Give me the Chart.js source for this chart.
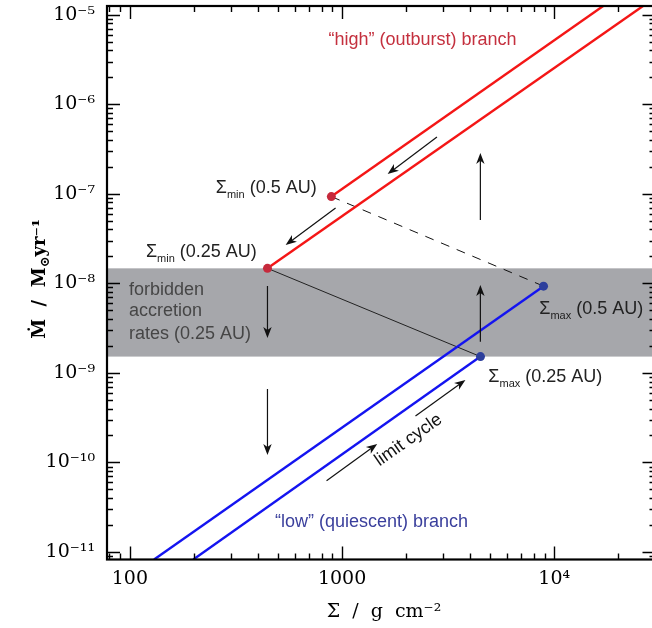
<!DOCTYPE html>
<html>
<head>
<meta charset="utf-8">
<script src="https://cdn.jsdelivr.net/npm/chart.js@4/dist/chart.umd.min.js"></script>
<style>
  html, body { margin: 0; padding: 0; background: #fff; overflow: hidden; }
</style>
</head>
<body>
<canvas id="cycleChart" width="660" height="628"></canvas>
<script>
// axis ranges and tick labels
const sigmaRange = [78, 30000];
const mdotRange = [8.24e-12, 1.25e-5];
const sigmaTicks = [100, 1000, 10000];
const sigmaTickLabels = ['100', '1000', '10⁴'];
const mdotTicks = [1e-11, 1e-10, 1e-9, 1e-8, 1e-7, 1e-6, 1e-5];
const mdotTickLabels = ['10⁻¹¹', '10⁻¹⁰', '10⁻⁹', '10⁻⁸', '10⁻⁷', '10⁻⁶', '10⁻⁵'];

// "high" (outburst) branches, Sigma / Mdot
const highSigma05 = [890, 17000];
const highMdot05 = [9.3e-8, 1.25e-5];
const highSigma025 = [445, 26200];
const highMdot025 = [1.47e-8, 1.25e-5];

// "low" (quiescent) branches
const lowSigma05 = [130, 8900];
const lowMdot05 = [8.24e-12, 9.3e-9];
const lowSigma025 = [199, 4490];
const lowMdot025 = [8.24e-12, 1.52e-9];

// turning points: Sigma_min (0.5, 0.25 AU) and Sigma_max (0.5, 0.25 AU)
const minSigma = [890, 445];
const minMdot = [9.3e-8, 1.47e-8];
const maxSigma = [8900, 4490];
const maxMdot = [9.3e-9, 1.52e-9];

// forbidden accretion rates at 0.25 AU
const forbiddenBand = [1.52e-9, 1.47e-8];

// limit-cycle arrows: [sigmaFrom, mdotFrom, sigmaTo, mdotTo]
const arrows = [
    [2800, 4.3e-7, 1640, 1.66e-7],
    [932, 6.94e-8, 542, 2.68e-8],
    [4485, 5.1e-8, 4485, 2.86e-7],
    [4485, 2.23e-9, 4485, 9.58e-9],
    [445, 9.34e-9, 445, 2.45e-9],
    [445, 6.61e-10, 445, 1.21e-10],
    [845, 6.25e-11, 1464, 1.61e-10],
    [2218, 3.3e-10, 3813, 8.33e-10]
];

const pts = (xs, ys) => xs.map((x, i) => ({ x, y: ys[i] }));

const SANS = '"Liberation Sans", Arial, sans-serif';
const SERIF = '"DejaVu Serif", serif';

// text annotations, anchored in data space
const notes = [
    { text: '“high” (outburst) branch', x: 2392, y: 4.59e-6, align: 'center', color: '#c4303e' },
    { text: '“low” (quiescent) branch', x: 1377, y: 1.92e-11, align: 'center', color: '#3a3f9c' },
    { text: 'forbidden', x: 99, y: 7.41e-9, align: 'left', color: '#464646' },
    { text: 'accretion', x: 99, y: 4.28e-9, align: 'left', color: '#464646' },
    { text: 'rates (0.25 AU)', x: 99, y: 2.38e-9, align: 'left', color: '#464646' }
];
const sigmaNotes = [
    { sub: 'min', rest: '(0.5 AU)', x: 254, y: 1.02e-7 },
    { sub: 'min', rest: '(0.25 AU)', x: 119, y: 1.97e-8 },
    { sub: 'max', rest: '(0.5 AU)', x: 8500, y: 4.55e-9 },
    { sub: 'max', rest: '(0.25 AU)', x: 4890, y: 7.97e-10 }
];

function drawArrow(ctx, x0, y0, x1, y1) {
    const ang = Math.atan2(y1 - y0, x1 - x0);
    const L = 11, W = 4.2;
    ctx.beginPath();
    ctx.moveTo(x0, y0);
    ctx.lineTo(x1 - Math.cos(ang) * L * 0.7, y1 - Math.sin(ang) * L * 0.7);
    ctx.stroke();
    ctx.save();
    ctx.translate(x1, y1);
    ctx.rotate(ang);
    ctx.beginPath();
    ctx.moveTo(0, 0);
    ctx.lineTo(-L, -W);
    ctx.lineTo(-L * 0.72, 0);
    ctx.lineTo(-L, W);
    ctx.closePath();
    ctx.fill();
    ctx.restore();
}

function drawLogTicks(ctx, scale, a, horizontal) {
    const lo = scale.min, hi = scale.max;
    for (let e = Math.floor(Math.log10(lo)); e <= Math.ceil(Math.log10(hi)); e++) {
        for (let m = 1; m < 10; m++) {
            const v = m * Math.pow(10, e);
            if (v < lo * 0.999 || v > hi * 1.001) continue;
            const len = m === 1 ? 13 : 6;
            const p = Math.round(scale.getPixelForValue(v)) + 0.5;
            ctx.beginPath();
            if (horizontal) {
                ctx.moveTo(p, a.bottom); ctx.lineTo(p, a.bottom - len);
                ctx.moveTo(p, a.top); ctx.lineTo(p, a.top + len);
            } else {
                ctx.moveTo(a.left, p); ctx.lineTo(a.left + len, p);
                ctx.moveTo(a.right, p); ctx.lineTo(a.right - len, p);
            }
            ctx.stroke();
        }
    }
}

const decor = {
    id: 'decor',
    beforeDatasetsDraw(chart) {
        const { ctx, chartArea: a, scales: { y } } = chart;
        const top = y.getPixelForValue(forbiddenBand[1]);
        const bot = y.getPixelForValue(forbiddenBand[0]);
        ctx.save();
        ctx.fillStyle = '#a6a7ab';
        ctx.fillRect(a.left, top, a.right - a.left, bot - top);
        ctx.restore();
    },
    afterDatasetsDraw(chart) {
        const { ctx, chartArea: a, scales: { x, y } } = chart;
        ctx.save();

        // arrows
        ctx.strokeStyle = '#111';
        ctx.fillStyle = '#111';
        ctx.lineWidth = 1.2;
        arrows.forEach(r => {
            drawArrow(ctx, x.getPixelForValue(r[0]), y.getPixelForValue(r[1]),
                x.getPixelForValue(r[2]), y.getPixelForValue(r[3]));
        });

        // plain notes
        ctx.textBaseline = 'alphabetic';
        ctx.font = '18px ' + SANS;
        notes.forEach(n => {
            ctx.fillStyle = n.color;
            ctx.textAlign = n.align;
            ctx.fillText(n.text, x.getPixelForValue(n.x), y.getPixelForValue(n.y));
        });

        // Sigma_min / Sigma_max notes
        ctx.textAlign = 'left';
        ctx.fillStyle = '#222';
        sigmaNotes.forEach(n => {
            let px = x.getPixelForValue(n.x);
            const py = y.getPixelForValue(n.y);
            ctx.font = '18px ' + SANS;
            ctx.fillText('Σ', px, py);
            px += ctx.measureText('Σ').width;
            ctx.font = '11px ' + SANS;
            ctx.fillText(n.sub, px, py + 5);
            px += ctx.measureText(n.sub).width;
            ctx.font = '18px ' + SANS;
            ctx.fillText(' ' + n.rest, px, py);
        });

        // rotated "limit cycle"
        ctx.save();
        ctx.translate(x.getPixelForValue(2056), y.getPixelForValue(1.78e-10));
        ctx.rotate(-35 * Math.PI / 180);
        ctx.font = '18px ' + SANS;
        ctx.textAlign = 'center';
        ctx.textBaseline = 'middle';
        ctx.fillStyle = '#111';
        ctx.fillText('limit cycle', 0, 0);
        ctx.restore();

        // frame and inward ticks
        ctx.strokeStyle = '#000';
        ctx.lineWidth = 1.4;
        drawLogTicks(ctx, x, a, true);
        drawLogTicks(ctx, y, a, false);
        ctx.lineWidth = 2.2;
        ctx.strokeRect(a.left, a.top, a.right - a.left, a.bottom - a.top);

        // axis titles
        ctx.fillStyle = '#000';
        ctx.textBaseline = 'alphabetic';
        ctx.textAlign = 'center';
        ctx.font = '19px ' + SERIF;
        ctx.fillText('Σ  /  g  cm⁻²', 384, 617);

        ctx.save();
        ctx.translate(45, 279);
        ctx.rotate(-Math.PI / 2);
        const parts = [
            ['Ṁ  /  M', 'bold 18px ' + SERIF, 0],
            ['⊙', 'bold 13px ' + SERIF, 4],
            ['yr', 'bold 18px ' + SERIF, 0],
            ['⁻¹', 'bold 18px ' + SERIF, 0]
        ];
        let total = 0;
        parts.forEach(p => { ctx.font = p[1]; total += ctx.measureText(p[0]).width; });
        let cx = -total / 2;
        ctx.textAlign = 'left';
        parts.forEach(p => {
            ctx.font = p[1];
            ctx.fillText(p[0], cx, p[2]);
            cx += ctx.measureText(p[0]).width;
        });
        ctx.restore();

        ctx.restore();
    }
};

const data = {
    datasets: [
        {
            data: pts(minSigma, minMdot),
            showLine: false,
            pointRadius: 4.5,
            pointBorderWidth: 0,
            pointBackgroundColor: '#c62a3c',
            order: 0
        },
        {
            data: pts(maxSigma, maxMdot),
            showLine: false,
            pointRadius: 4.5,
            pointBorderWidth: 0,
            pointBackgroundColor: '#2d3f9c',
            order: 0
        },
        {
            data: pts(highSigma05, highMdot05),
            showLine: true, pointRadius: 0, borderColor: '#f41616', borderWidth: 2.4, order: 1
        },
        {
            data: pts(highSigma025, highMdot025),
            showLine: true, pointRadius: 0, borderColor: '#f41616', borderWidth: 2.4, order: 1
        },
        {
            data: pts(lowSigma05, lowMdot05),
            showLine: true, pointRadius: 0, borderColor: '#1414f0', borderWidth: 2.4, order: 1
        },
        {
            data: pts(lowSigma025, lowMdot025),
            showLine: true, pointRadius: 0, borderColor: '#1414f0', borderWidth: 2.4, order: 1
        },
        {
            // 0.5 AU jump, dashed
            data: [{ x: minSigma[0], y: minMdot[0] }, { x: maxSigma[0], y: maxMdot[0] }],
            showLine: true, pointRadius: 0, borderColor: '#111', borderWidth: 1,
            borderDash: [9, 8], order: 2
        },
        {
            // 0.25 AU jump
            data: [{ x: minSigma[1], y: minMdot[1] }, { x: maxSigma[1], y: maxMdot[1] }],
            showLine: true, pointRadius: 0, borderColor: '#222', borderWidth: 1, order: 2
        }
    ]
};

const config = {
    type: 'scatter',
    data,
    options: {
        responsive: false,
        animation: false,
        devicePixelRatio: 1,
        layout: { padding: { top: 6, right: 4, left: 0, bottom: 0 } },
        plugins: {
            legend: { display: false },
            tooltip: { enabled: false }
        },
        scales: {
            x: {
                type: 'logarithmic',
                min: sigmaRange[0],
                max: sigmaRange[1],
                afterBuildTicks: s => { s.ticks = sigmaTicks.map(v => ({ value: v })); },
                afterFit: s => { s.height = 68.5; s.paddingLeft = 0; s.paddingRight = 0; },
                grid: { display: false, drawTicks: false },
                border: { display: false },
                ticks: {
                    autoSkip: false,
                    maxRotation: 0,
                    padding: 8,
                    color: '#000',
                    font: { family: 'DejaVu Serif', size: 19 },
                    callback: (v, i) => sigmaTickLabels[i]
                }
            },
            y: {
                type: 'logarithmic',
                min: mdotRange[0],
                max: mdotRange[1],
                afterBuildTicks: s => { s.ticks = mdotTicks.map(v => ({ value: v })); },
                afterFit: s => { s.width = 107; s.paddingTop = 0; s.paddingBottom = 0; },
                grid: { display: false, drawTicks: false },
                border: { display: false },
                ticks: {
                    autoSkip: false,
                    padding: 12,
                    color: '#000',
                    font: { family: 'DejaVu Serif', size: 19 },
                    callback: (v, i) => mdotTickLabels[i]
                }
            }
        }
    },
    plugins: [decor]
};

const cycleChart = new Chart(document.getElementById('cycleChart'), config);
</script>
</body>
</html>
